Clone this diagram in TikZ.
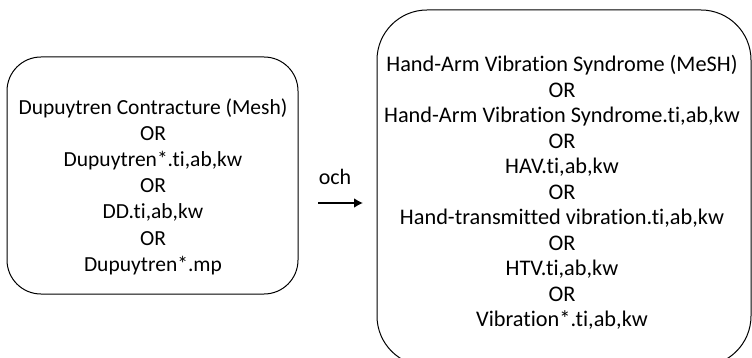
\documentclass[tikz,border=0pt]{standalone}
\usepackage{fontspec}
\usetikzlibrary{arrows.meta}
\setmainfont{Carlito}[Ligatures=NoCommon]
\begin{document}
\begin{tikzpicture}[x=1pt,y=-1pt,
  frame/.style={draw=black, line width=1pt, inner sep=0pt},
  txt/.style={align=center, inner sep=0pt},
  conn/.style={line width=2.4pt, -{Latex[length=9pt,width=10pt]}},
  lbl/.style={font=\fontsize{22}{26}\selectfont, inner sep=0pt}]
\useasboundingbox (0,0) rectangle (752,358);
% left box
\node[frame, rounded corners=34pt, minimum width=291pt, minimum height=237pt] (Lbox) at (152.5,175.5) {};
\node[txt, font=\fontsize{21.5}{26.2}\selectfont] (Ltxt) at (153,186.5)
 {Dupuytren Contracture (Mesh)\\OR\\Dupuytren*.ti,ab,kw\\OR\\DD.ti,ab,kw\\OR\\Dupuytren*.mp};
% right box
\node[frame, rounded corners=50pt, minimum width=374pt, minimum height=356pt] (Rbox) at (564,188) {};
\node[txt, font=\fontsize{22.3}{25.5}\selectfont] (Rtxt) at (562,192.5)
 {Hand-Arm Vibration Syndrome (MeSH)\\OR\\Hand-Arm Vibration Syndrome.ti,ab,kw\\OR\\HAV.ti,ab,kw\\OR\\Hand-transmitted vibration.ti,ab,kw\\OR\\HTV.ti,ab,kw\\OR\\Vibration*.ti,ab,kw};
% connector
\coordinate (a1) at (318,203);
\coordinate (a2) at (363,203);
\draw[conn] (a1) -- (a2);
\node[lbl] (och) at (335,177) {och};
\end{tikzpicture}
\end{document}
